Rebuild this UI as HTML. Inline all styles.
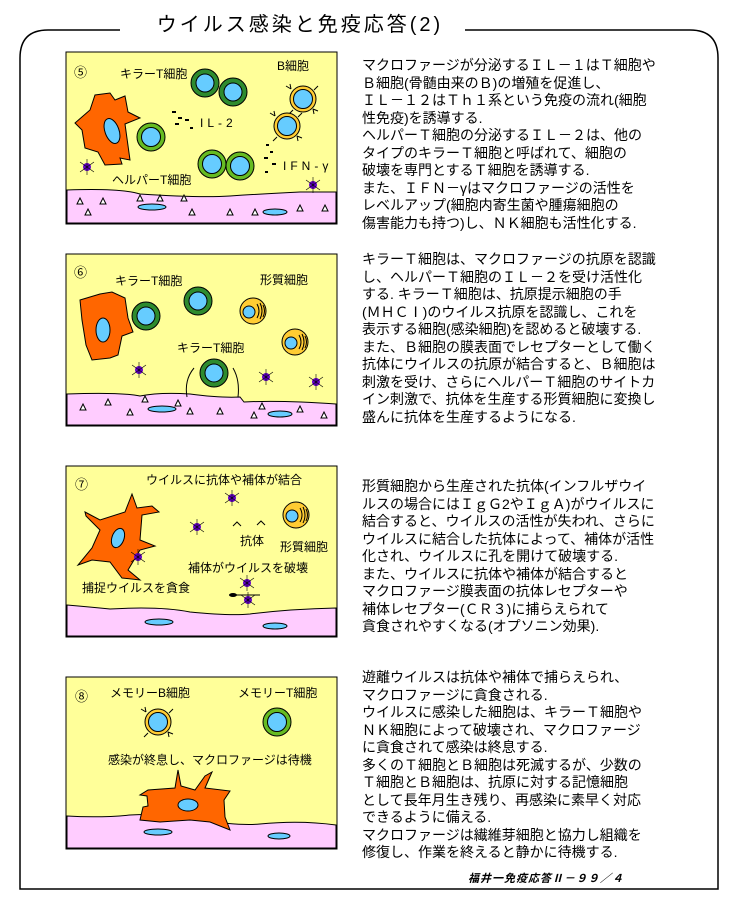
<!DOCTYPE html>
<html><head><meta charset="utf-8">
<style>
body{margin:0;background:#fff;width:738px;height:914px;overflow:hidden;position:relative;font-family:"Liberation Sans","Noto Sans CJK JP",sans-serif;}
svg{position:absolute;left:0;top:0}
.p{position:absolute;left:362px;font-size:14px;line-height:17.5px;letter-spacing:0px;white-space:pre;color:#000}
.t{position:absolute;font-size:20px;left:0;top:8px;width:600px;text-align:center;letter-spacing:3px}
.f{position:absolute;left:468px;top:870px;font-size:11px;font-style:italic;font-weight:bold;letter-spacing:1px}
</style></head><body>
<svg width="738" height="914" viewBox="0 0 738 914" font-family="Liberation Sans, Noto Sans CJK JP, sans-serif" font-size="12">
<defs>
 <g id="dg"><circle r="14" fill="#2e8b2e" stroke="#000"/><circle r="9" fill="#66ccff" stroke="#000"/></g>
 <g id="lg"><circle r="14" fill="#66bb22" stroke="#000"/><circle r="9.5" fill="#66ccff" stroke="#000"/></g>
 <g id="bc"><circle r="13" fill="#ffcc33" stroke="#000"/><circle r="9.5" fill="#66ccff" stroke="#000"/>
  <path d="M-12,-10 l-5,-3 M-12,-10 l-1,-5 M10,10 l5,2 M10,10 l1,5 M11,-9 l4,-4 M-10,11 l-4,4" stroke="#000" fill="none"/></g>
 <g id="pc"><circle r="13" fill="#ffcc33" stroke="#000"/><circle cx="-4" cy="1" r="6" fill="#66ccff" stroke="#000"/>
  <path d="M4,-7 q4,7 0,14 M7,-8 q4,8 0,16 M10,-6 q3,6 0,12" stroke="#000" fill="none"/></g>
 <g id="v"><circle r="4" fill="#6600cc"/><path d="M-7,-5 l14,10 M-7,5 l14,-10 M0,-8 v16" stroke="#000" stroke-width="0.6"/></g>
 <g id="tr"><path d="M0,-3 l3,6 h-6z" fill="#fff" stroke="#000"/></g>
</defs>
<path d="M120,30 H48 Q20,30 20,58 V889 H718 V58 Q718,30 690,30 H465" fill="none" stroke="#000" stroke-width="1.5"/>

<rect x="66" y="52" width="271" height="172" fill="#ffff99" stroke="#000"/>
<path d="M67,190 Q120,188 140,194 Q200,198 230,196 Q260,194 300,192 L336,192 V223 H67z" fill="#ffccff" stroke="#000"/>
<path d="M75,123 L90,110 L95,95 L110,93 L115,100 L125,96 L128,112 L140,118 L125,124 L130,160 L120,158 L122,164 L105,165 L98,152 L85,148 L82,130z" fill="#ff6600" stroke="#000"/>
<ellipse cx="112" cy="131" rx="7" ry="13" fill="#66ccff" stroke="#000" transform="rotate(-20 112 131)"/>
<use href="#dg" x="205" y="83"/><use href="#dg" x="233" y="92"/>
<use href="#lg" x="151" y="137"/><use href="#lg" x="212" y="164"/><use href="#lg" x="240" y="166"/>
<use href="#bc" x="303" y="99"/><use href="#bc" x="287" y="126"/>
<use href="#v" x="87" y="167"/><use href="#v" x="313" y="185"/>
<ellipse cx="152" cy="207" rx="14" ry="3" fill="#66ccff" stroke="#000"/><ellipse cx="275" cy="212" rx="12" ry="3" fill="#66ccff" stroke="#000"/>
<use href="#tr" x="80" y="201"/><use href="#tr" x="103" y="201"/><use href="#tr" x="140" y="198"/><use href="#tr" x="160" y="198"/><use href="#tr" x="184" y="198"/><use href="#tr" x="88" y="212"/><use href="#tr" x="192" y="212"/><use href="#tr" x="230" y="212"/><use href="#tr" x="255" y="212"/><use href="#tr" x="300" y="208"/><use href="#tr" x="325" y="208"/>
<path d="M172,112h4M178,118h4M175,124h4M185,120h4M190,128h3M266,145h3M270,152h3M264,158h4M272,164h4M265,172h3" stroke="#000" stroke-width="2"/>
<text x="74" y="77" font-size="13">⑤</text>
<text x="120" y="78">キラーT細胞</text><text x="277" y="70">B細胞</text>
<text x="200" y="127" letter-spacing="4">IL-2</text><text x="283" y="170" letter-spacing="4">IFN-γ</text>
<text x="112" y="184">ヘルパーT細胞</text>

<rect x="66" y="254" width="271" height="172" fill="#ffff99" stroke="#000"/>
<path d="M67,394 Q120,392 140,396 Q160,392 190,394 Q220,398 240,397 L244,402 Q280,400 336,404 V425 H67z" fill="#ffccff" stroke="#000"/>
<path d="M80,300 L100,294 L112,292 L125,298 L128,318 L133,332 L122,336 L118,355 L110,358 L92,360 L86,345 L82,320z" fill="#ff6600" stroke="#000"/>
<ellipse cx="103" cy="330" rx="7" ry="12" fill="#66ccff" stroke="#000"/>
<use href="#dg" x="146" y="316"/><use href="#dg" x="198" y="301"/><use href="#dg" x="214" y="373"/>
<use href="#pc" x="253" y="311"/><use href="#pc" x="295" y="342"/>
<use href="#v" x="139" y="370"/><use href="#v" x="266" y="377"/><use href="#v" x="316" y="382"/>
<path d="M194,368 Q184,380 187,397 M233,368 Q240,380 238,397" stroke="#000" fill="none"/>
<ellipse cx="162" cy="409" rx="14" ry="3" fill="#66ccff" stroke="#000"/><ellipse cx="280" cy="414" rx="12" ry="3" fill="#66ccff" stroke="#000"/>
<use href="#tr" x="83" y="407"/><use href="#tr" x="108" y="402"/><use href="#tr" x="130" y="412"/><use href="#tr" x="145" y="399"/><use href="#tr" x="178" y="403"/><use href="#tr" x="190" y="411"/><use href="#tr" x="220" y="411"/><use href="#tr" x="262" y="406"/><use href="#tr" x="254" y="415"/><use href="#tr" x="300" y="409"/><use href="#tr" x="324" y="415"/>
<text x="74" y="277" font-size="13">⑥</text>
<text x="115" y="285">キラーT細胞</text><text x="260" y="284">形質細胞</text><text x="177" y="352">キラーT細胞</text>

<rect x="66" y="466" width="271" height="171" fill="#ffff99" stroke="#000"/>
<path d="M67,605 Q90,607 110,609 Q160,606 190,612 Q230,616 250,614 Q290,609 336,608 V636 H67z" fill="#ffccff" stroke="#000"/>
<path d="M85,512 L100,520 L125,512 L132,494 L137,508 L152,506 L159,512 L142,515 L140,540 L155,546 L140,550 L128,570 L140,580 L122,578 L110,562 L92,560 L78,565 L92,548 L100,530 L86,516z" fill="#ff6600" stroke="#000"/>
<ellipse cx="118" cy="538" rx="6" ry="10" fill="#66ccff" stroke="#000" transform="rotate(20 118 538)"/>
<use href="#pc" x="296" y="515"/>
<use href="#v" x="232" y="498"/><use href="#v" x="197" y="527"/><use href="#v" x="138" y="557"/><use href="#v" x="247" y="583"/><use href="#v" x="248" y="600"/>
<path d="M233,526 l4,-4 l4,4 M257,525 l4,-4 l4,4" stroke="#000" fill="none"/>
<path d="M232,595 H260" stroke="#000"/><ellipse cx="233" cy="595" rx="4" ry="2" fill="#000"/>
<ellipse cx="159" cy="622" rx="14" ry="3" fill="#66ccff" stroke="#000"/><ellipse cx="275" cy="626" rx="12" ry="3" fill="#66ccff" stroke="#000"/>
<text x="75" y="489" font-size="13">⑦</text>
<text x="146" y="484">ウイルスに抗体や補体が結合</text>
<text x="240" y="545">抗体</text><text x="280" y="551">形質細胞</text>
<text x="188" y="572">補体がウイルスを破壊</text><text x="82" y="592">捕捉ウイルスを貪食</text>

<rect x="66" y="677" width="271" height="172" fill="#ffff99" stroke="#000"/>
<path d="M67,816 Q100,818 130,815 Q170,813 200,820 Q240,826 260,824 Q300,820 336,825 V848 H67z" fill="#ffccff" stroke="#000"/>
<path d="M140,820 L143,807 L148,806 L147,796 L140,795 L148,790 L175,788 L178,770 L181,786 L195,790 L205,776 L212,772 L205,788 L230,791 L224,800 L225,817 L230,830 L210,822 L190,820 L160,822 Z" fill="#ff6600" stroke="#000"/>
<ellipse cx="188" cy="805" rx="10" ry="6" fill="#66ccff" stroke="#000"/>
<use href="#bc" x="158" y="722"/><use href="#lg" x="277" y="722"/>
<ellipse cx="158" cy="832" rx="14" ry="3" fill="#66ccff" stroke="#000"/><ellipse cx="279" cy="836" rx="11" ry="3" fill="#66ccff" stroke="#000"/>
<text x="75" y="701" font-size="13">⑧</text>
<text x="110" y="697">メモリーB細胞</text><text x="238" y="697">メモリーT細胞</text>
<text x="108" y="764">感染が終息し、マクロファージは待機</text>
</svg>
<div class="t">ウイルス感染と免疫応答(2)</div>
<div class="p" style="top:57px">マクロファージが分泌するＩＬ－１はＴ細胞や
Ｂ細胞(骨髄由来のＢ)の増殖を促進し、
ＩＬ－１２はＴｈ１系という免疫の流れ(細胞
性免疫)を誘導する.
ヘルパーＴ細胞の分泌するＩＬ－２は、他の
タイプのキラーＴ細胞と呼ばれて、細胞の
破壊を専門とするＴ細胞を誘導する.
また、ＩＦＮ－γはマクロファージの活性を
レベルアップ(細胞内寄生菌や腫瘍細胞の
傷害能力も持つ)し、ＮＫ細胞も活性化する.</div>
<div class="p" style="top:251px">キラーＴ細胞は、マクロファージの抗原を認識
し、ヘルパーＴ細胞のＩＬ－２を受け活性化
する. キラーＴ細胞は、抗原提示細胞の手
(ＭＨＣⅠ)のウイルス抗原を認識し、これを
表示する細胞(感染細胞)を認めると破壊する.
また、Ｂ細胞の膜表面でレセプターとして働く
抗体にウイルスの抗原が結合すると、Ｂ細胞は
刺激を受け、さらにヘルパーＴ細胞のサイトカ
イン刺激で、抗体を生産する形質細胞に変換し
盛んに抗体を生産するようになる.</div>
<div class="p" style="top:478px">形質細胞から生産された抗体(インフルザウイ
ルスの場合にはＩｇＧ2やＩｇＡ)がウイルスに
結合すると、ウイルスの活性が失われ、さらに
ウイルスに結合した抗体によって、補体が活性
化され、ウイルスに孔を開けて破壊する.
また、ウイルスに抗体や補体が結合すると
マクロファージ膜表面の抗体レセプターや
補体レセプター(ＣＲ３)に捕らえられて
貪食されやすくなる(オプソニン効果).</div>
<div class="p" style="top:669px">遊離ウイルスは抗体や補体で捕らえられ、
マクロファージに貪食される.
ウイルスに感染した細胞は、キラーＴ細胞や
ＮＫ細胞によって破壊され、マクロファージ
に貪食されて感染は終息する.
多くのＴ細胞とＢ細胞は死滅するが、少数の
Ｔ細胞とＢ細胞は、抗原に対する記憶細胞
として長年月生き残り、再感染に素早く対応
できるように備える.
マクロファージは繊維芽細胞と協力し組織を
修復し、作業を終えると静かに待機する.</div>
<div class="f">福井一免疫応答Ⅱ－９９／４</div>
</body></html>
